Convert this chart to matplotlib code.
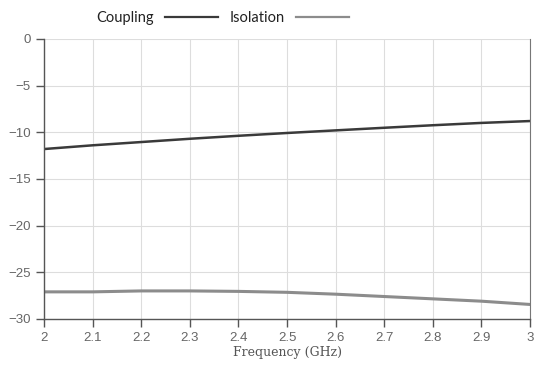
import matplotlib
matplotlib.use("Agg")
import matplotlib.pyplot as plt
import numpy as np

freq = [2.0, 2.1, 2.2, 2.3, 2.4, 2.5, 2.6, 2.7, 2.8, 2.9, 3.0]
coupling = [-11.8, -11.4, -11.05, -10.7, -10.38, -10.08, -9.8, -9.52, -9.25, -9.0, -8.8]
isolation = [-27.1, -27.1, -27.0, -27.0, -27.05, -27.15, -27.35, -27.6, -27.85, -28.1, -28.45]
xticks = [2, 2.1, 2.2, 2.3, 2.4, 2.5, 2.6, 2.7, 2.8, 2.9, 3]
xticklabels = ["2", "2.1", "2.2", "2.3", "2.4", "2.5", "2.6", "2.7", "2.8", "2.9", "3"]
yticks = [0, -5, -10, -15, -20, -25, -30]
yticklabels = ["0", "\u22125", "\u221210", "\u221215", "\u221220", "\u221225", "\u221230"]

fig = plt.figure(figsize=(5.36, 3.67), dpi=100)
ax = fig.add_axes([0.082, 0.131, 0.907, 0.763])

ax.plot(freq, coupling, color="#3a3a3a", lw=1.8, label="Coupling")
ax.plot(freq, isolation, color="#8c8c8c", lw=2.2, label="Isolation")

ax.set_xlim(2, 3)
ax.set_ylim(-30, 0)
ax.set_xticks(xticks)
ax.set_xticklabels(xticklabels)
ax.set_yticks(yticks)
ax.set_yticklabels(yticklabels)
ax.grid(True, color="#dddddd", lw=0.8)
ax.set_axisbelow(True)
for s in ["left", "bottom"]:
    ax.spines[s].set_color("#555555")
    ax.spines[s].set_linewidth(1.0)
ax.spines["right"].set_color("#777777")
ax.spines["top"].set_visible(False)
ax.tick_params(axis="both", colors="#555555", labelcolor="#666666", labelsize=9.5, length=6, width=1.0)
for lab in ax.get_xticklabels() + ax.get_yticklabels():
    lab.set_family("Liberation Sans")
ax.set_xlabel("Frequency (GHz)", family="DejaVu Serif", fontsize=9, color="#555555", labelpad=1)

fig.legend(loc="upper left", bbox_to_anchor=(0.155, 1.005), ncol=2, frameon=False,
           prop={"family": "Lato", "size": 10.5}, markerfirst=False, handlelength=3.6,
           columnspacing=0.8, handletextpad=0.8, labelcolor="#222222")
for line in fig.legends[0].get_lines():
    line.set_linewidth(1.6)

fig.savefig("out.png", dpi=100)
